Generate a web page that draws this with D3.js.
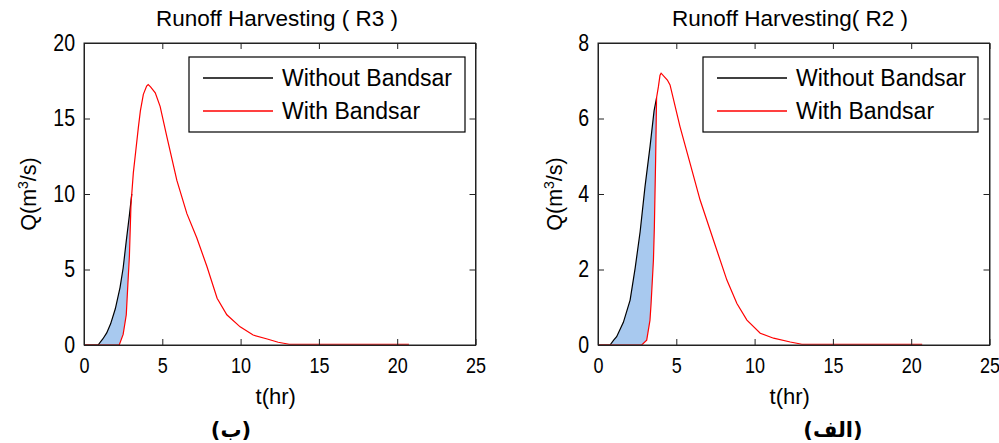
<!DOCTYPE html>
<html>
<head>
<meta charset="utf-8">
<script src="https://cdn.jsdelivr.net/npm/d3@7"></script>
<style>
  body { margin: 0; background: #fff; }
  svg text { font-family: "Liberation Sans", Arial, sans-serif; fill: #000; }
  .fa { font-family: "DejaVu Sans", sans-serif; font-weight: bold; }
</style>
</head>
<body>
<div id="chart"></div>
<script>
'use strict';

// time axis ticks shared by both panels
const xTicks = [0, 5, 10, 15, 20, 25];

// R3 panel
const r3YTicks = [0, 5, 10, 15, 20];
const r3NoBandsarT = [0, 0.9, 1.2, 1.45, 1.7, 2.0, 2.3, 2.5, 2.7, 2.9, 3.05];
const r3NoBandsarQ = [0, 0, 0.4, 0.8, 1.4, 2.4, 3.8, 5.1, 6.9, 8.6, 10.0];
const r3BandsarT = [0, 2.25, 2.5, 2.7, 2.8, 2.9, 3.0, 3.05, 3.15, 3.3, 3.47, 3.6, 3.79, 4.0, 4.1, 4.25, 4.55,
    4.86, 5.29, 5.93, 6.57, 7.2, 7.85, 8.5, 9.12, 9.97, 10.8, 11.7, 12.4, 13.1, 20.75];
const r3BandsarQ = [0, 0, 0.7, 2.0, 4.0, 5.9, 9.3, 10.0, 11.4, 12.8, 14.4, 15.5, 16.6, 17.15, 17.25, 17.1, 16.7,
    15.8, 13.8, 10.9, 8.7, 7.1, 5.2, 3.1, 2.0, 1.2, 0.66, 0.4, 0.18, 0.05, 0.05];

// R2 panel
const r2YTicks = [0, 2, 4, 6, 8];
const r2NoBandsarT = [0, 0.77, 1.0, 1.19, 1.62, 2.05, 2.37, 2.69, 3.0, 3.32, 3.58, 3.74];
const r2NoBandsarQ = [0, 0, 0.13, 0.22, 0.6, 1.19, 2.03, 3.0, 4.19, 5.25, 6.2, 6.55];
const r2BandsarT = [0, 2.79, 3.11, 3.32, 3.39, 3.54, 3.6, 3.68, 3.74, 3.86, 3.96, 4.03, 4.43, 4.6, 5.24,
    5.88, 6.52, 7.37, 8.23, 8.87, 9.51, 10.36, 11.21, 12.28, 13.02, 20.7];
const r2BandsarQ = [0, 0, 0.13, 0.66, 1.1, 2.25, 3.13, 4.9, 6.55, 6.85, 7.15, 7.2, 7.02, 6.89, 5.78,
    4.81, 3.84, 2.78, 1.72, 1.1, 0.66, 0.31, 0.18, 0.08, 0.02, 0.02];

const legendLabels = ["Without Bandsar", "With Bandsar"];

const W = 999, H = 443;
const svg = d3.select("#chart").append("svg")
    .attr("width", W)
    .attr("height", H);

function zip(ts, qs) {
    return ts.map((t, i) => ({ t: t, q: qs[i] }));
}

function drawPanel(p) {
    let margin = { left: p.left, top: 43 },
        width = 391.5,
        height = 302;

    let x = d3.scaleLinear().domain([0, 25]).range([0, width]);
    let y = d3.scaleLinear().domain([0, p.yMax]).range([height, 0]);

    let g = svg.append("g")
        .attr("transform", "translate(" + margin.left + "," + margin.top + ")");

    let black = zip(p.blackT, p.blackQ);
    let red = zip(p.redT, p.redQ);

    // shaded gap between the two hydrographs on the rising limb
    let tEnd = black[black.length - 1].t;
    let blackRise = black.filter(d => d.t >= p.blackStart);
    let redRise = red.filter(d => d.t >= p.redStart && d.t <= tEnd).reverse();
    g.append("path")
        .datum(blackRise.concat(redRise))
        .attr("fill", "#a8c9ef")
        .attr("stroke", "none")
        .attr("d", d3.line().x(d => x(d.t)).y(d => y(d.q)));

    let line = d3.line().x(d => x(d.t)).y(d => y(d.q));

    g.append("path")
        .datum(black)
        .attr("fill", "none")
        .attr("stroke", "#000")
        .attr("stroke-width", 1.2)
        .attr("d", line);

    g.append("path")
        .datum(red)
        .attr("fill", "none")
        .attr("stroke", "#ff0000")
        .attr("stroke-width", 1.2)
        .attr("d", line);

    // axes with inward ticks on all sides
    let xAxis = d3.axisBottom(x).tickValues(xTicks).tickSizeInner(-6).tickSizeOuter(0).tickPadding(12);
    let xTop = d3.axisTop(x).tickValues(xTicks).tickSizeInner(-6).tickSizeOuter(0).tickFormat("");
    let yAxis = d3.axisLeft(y).tickValues(p.yTicks).tickSizeInner(-6).tickSizeOuter(0).tickPadding(9);
    let yRight = d3.axisRight(y).tickValues(p.yTicks).tickSizeInner(-6).tickSizeOuter(0).tickFormat("");

    g.append("g").attr("transform", "translate(0," + height + ")").call(xAxis)
        .selectAll("text")
        .style("font-size", "22.5px")
        .attr("font-family", null)
        .attr("transform", "scale(0.8,1)");
    g.append("g").call(xTop);
    g.append("g").call(yAxis)
        .selectAll("text")
        .style("font-size", "23px")
        .attr("font-family", null)
        .attr("transform", "scale(0.85,1)")
        .attr("x", -9 / 0.85);
    g.append("g").attr("transform", "translate(" + width + ",0)").call(yRight);
    g.selectAll(".domain").attr("stroke", "#222");
    g.selectAll(".tick line").attr("stroke", "#222");

    g.append("rect")
        .attr("width", width)
        .attr("height", height)
        .attr("fill", "none")
        .attr("stroke", "#222")
        .attr("stroke-width", 1);

    // legend
    let lg = g.append("g").attr("transform", "translate(" + p.legendX + ",14)");
    lg.append("rect")
        .attr("width", p.legendW)
        .attr("height", 75)
        .attr("fill", "#fff")
        .attr("stroke", "#000")
        .attr("stroke-width", 1.2);
    ["#000", "#ff0000"].forEach((c, i) => {
        let yy = 21 + i * 33;
        lg.append("line")
            .attr("x1", 14).attr("x2", 84)
            .attr("y1", yy).attr("y2", yy)
            .attr("stroke", c).attr("stroke-width", 1.3);
        lg.append("text")
            .attr("x", 93).attr("y", yy + 8)
            .style("font-size", "23px")
            .text(legendLabels[i]);
    });

    // titles and labels
    svg.append("text")
        .attr("x", margin.left + p.titleDx)
        .attr("y", 26)
        .attr("text-anchor", "middle")
        .style("font-size", "22.5px")
        .text(p.title);

    svg.append("text")
        .attr("x", margin.left + width / 2 - 4)
        .attr("y", 404)
        .attr("text-anchor", "middle")
        .style("font-size", "22px")
        .text("t(hr)");

    let yl = svg.append("text")
        .attr("transform", "translate(" + (margin.left + p.ylabelDx) + "," + (margin.top + height / 2) + ") rotate(-90)")
        .attr("text-anchor", "middle")
        .style("font-size", "21.5px");
    yl.append("tspan").text("Q(m");
    yl.append("tspan").attr("baseline-shift", "super").style("font-size", "14px").text("3");
    yl.append("tspan").text("/s)");

    svg.append("text")
        .attr("class", "fa")
        .attr("x", p.tagX)
        .attr("y", 437)
        .attr("text-anchor", "middle")
        .style("font-size", "21px")
        .text(p.tag);
}

drawPanel({
    left: 84, yMax: 20, yTicks: r3YTicks,
    blackT: r3NoBandsarT, blackQ: r3NoBandsarQ, redT: r3BandsarT, redQ: r3BandsarQ,
    blackStart: 0.9, redStart: 2.25,
    legendX: 105, legendW: 276,
    title: "Runoff Harvesting ( R3 )", titleDx: 193,
    ylabelDx: -48,
    tag: "(ب)", tagX: 231
});

drawPanel({
    left: 598, yMax: 8, yTicks: r2YTicks,
    blackT: r2NoBandsarT, blackQ: r2NoBandsarQ, redT: r2BandsarT, redQ: r2BandsarQ,
    blackStart: 0.77, redStart: 2.79,
    legendX: 105, legendW: 275,
    title: "Runoff Harvesting( R2 )", titleDx: 192,
    ylabelDx: -36,
    tag: "(الف)", tagX: 833
});
</script>
</body>
</html>
